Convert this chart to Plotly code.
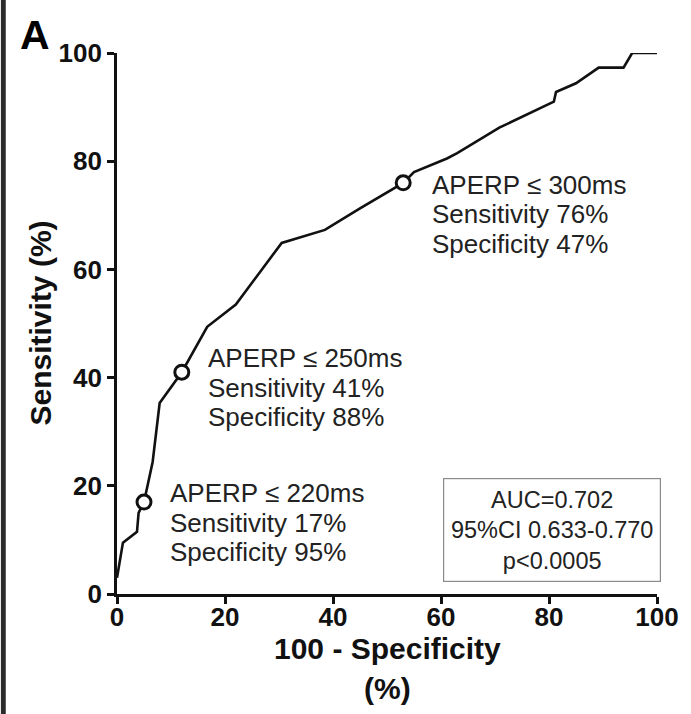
import plotly.graph_objects as go

# ROC curve: 100 - specificity (x) vs sensitivity (y), in percent
fpr = [0, 1.1, 3.7, 4.0, 5.0, 6.6, 7.9, 10.0, 12.0, 16.7, 22.0, 30.5, 38.5,
       45.0, 53.0, 55.0, 61.1, 63.0, 70.8, 80.9, 81.3, 85.0, 89.2, 93.8, 95.4, 100]
tpr = [3, 9.5, 11.5, 15.0, 17.0, 24.4, 35.3, 38.3, 41.0, 49.4, 53.5, 64.9, 67.3,
       71.3, 76.0, 78.0, 80.5, 81.5, 86.2, 91.0, 92.8, 94.4, 97.3, 97.3, 100, 100]

# Highlighted cut-offs
cut_labels = ["APERP \u2264 220ms", "APERP \u2264 250ms", "APERP \u2264 300ms"]
cut_sens = [17, 41, 76]
cut_spec = [95, 88, 47]
cut_fpr = [100 - s for s in cut_spec]

stats_lines = ["AUC=0.702", "95%CI 0.633-0.770", "p<0.0005"]

x_ticks = [0, 20, 40, 60, 80, 100]
y_ticks = [0, 20, 40, 60, 80, 100]

FONT = "Liberation Sans, Arial, sans-serif"
TXT = "#222222"
INK = "#111111"

fig = go.Figure()
fig.add_trace(go.Scatter(
    x=fpr, y=tpr, mode="lines",
    line=dict(color=INK, width=2.6),
    hoverinfo="skip", cliponaxis=False,
))
fig.add_trace(go.Scatter(
    x=cut_fpr, y=cut_sens, mode="markers",
    marker=dict(symbol="circle", size=14, color="white",
                line=dict(color=INK, width=3)),
    cliponaxis=False,
))

# Cut-off descriptions beside each marker: (x offset, first-line y offset) in px
label_offsets = [(24, 9), (24, 14), (27, -2)]
LINE_GAP = 29.5
for lab, fx, se, sp, (dx, dy) in zip(cut_labels, cut_fpr, cut_sens, cut_spec, label_offsets):
    lines = [lab, f"Sensitivity {se}%", f"Specificity {sp}%"]
    for i, t in enumerate(lines):
        fig.add_annotation(
            x=fx, y=se, xref="x", yref="y", text=t,
            showarrow=False, xanchor="left", yanchor="middle",
            xshift=dx, yshift=dy - i * LINE_GAP,
            font=dict(family=FONT, size=26, color=TXT),
        )

# Summary statistics box
fig.add_annotation(
    x=80.5, y=21.5, xref="x", yref="y",
    text="<br>".join(stats_lines),
    showarrow=False, xanchor="center", yanchor="top",
    align="center", width=212, height=98,
    bordercolor="#8a8a8a", borderwidth=1.2, borderpad=2,
    bgcolor="white",
    font=dict(family=FONT, size=23.5, color=TXT),
)

# Axis titles
fig.add_annotation(x=0.5, y=0, xref="paper", yref="paper", xanchor="center",
                   yanchor="middle", yshift=-54, showarrow=False,
                   text="100 - Specificity",
                   font=dict(family=FONT, size=30, color=INK, weight="bold"))
fig.add_annotation(x=0.5, y=0, xref="paper", yref="paper", xanchor="center",
                   yanchor="middle", yshift=-94, showarrow=False,
                   text="(%)",
                   font=dict(family=FONT, size=30, color=INK, weight="bold"))
fig.add_annotation(x=0, y=0.5, xref="paper", yref="paper", xanchor="center",
                   yanchor="middle", xshift=-77, showarrow=False, textangle=-90,
                   text="Sensitivity (%)",
                   font=dict(family=FONT, size=30, color=INK, weight="bold"))

# Panel letter
fig.add_annotation(x=0, y=1, xref="paper", yref="paper", xanchor="center",
                   yanchor="middle", xshift=-82, yshift=18, showarrow=False,
                   text="A",
                   font=dict(family=FONT, size=41, color="#000000", weight="bold"))

# Dark strip along the left edge of the panel
fig.add_shape(type="rect", xref="paper", yref="paper",
              x0=-0.215, x1=-0.206, y0=-0.3, y1=1.12,
              fillcolor="#2b2b2b", line=dict(width=0), layer="below")

axis_common = dict(
    showline=True, linecolor=INK, linewidth=2.6,
    ticks="outside", ticklen=7, tickwidth=2.6, tickcolor=INK,
    showgrid=False, zeroline=False, range=[0, 100],
    tickfont=dict(family=FONT, size=26, color=INK, weight="bold"),
)

fig.update_layout(
    width=691, height=714,
    margin=dict(l=117, r=29, t=53, b=120),
    paper_bgcolor="white", plot_bgcolor="white",
    showlegend=False,
    xaxis=dict(**axis_common, tickvals=x_ticks, ticklabelstandoff=-9),
    yaxis=dict(**axis_common, tickvals=y_ticks),
)

fig.write_html("out.html")
